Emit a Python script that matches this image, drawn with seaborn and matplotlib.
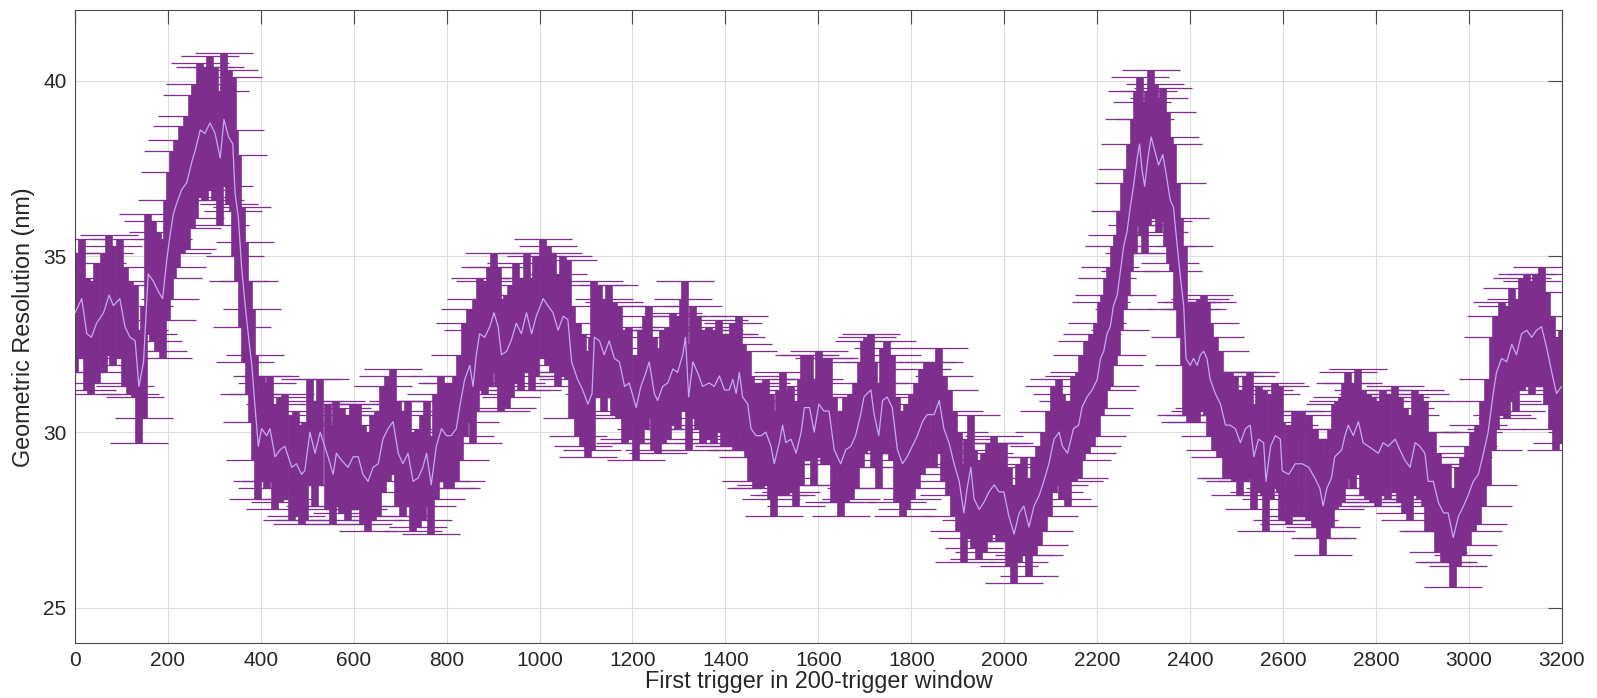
import numpy as np
import matplotlib
matplotlib.use("Agg")
import matplotlib.pyplot as plt
import seaborn as sns

# first trigger of each 200-trigger window
trigger = [
    1, 15, 26, 36, 47, 62, 74, 83, 97, 108,
    119, 130, 138, 148, 158, 169, 180, 189, 198, 205,
    212, 219, 230, 241, 252, 259, 270, 280, 291, 302,
    313, 321, 331, 340, 345, 352, 359, 366, 374, 381,
    388, 395, 402, 413, 420, 431, 442, 452, 467, 477,
    488, 495, 506, 517, 528, 545, 556, 563, 574, 588,
    599, 610, 620, 631, 642, 653, 663, 674, 685, 696,
    706, 717, 728, 739, 749, 757, 767, 778, 789, 800,
    810, 821, 828, 839, 850, 857, 864, 871, 882, 893,
    902, 911, 918, 929, 939, 950, 961, 972, 983, 993,
    1008, 1018, 1029, 1040, 1051, 1061, 1069, 1082, 1093, 1104,
    1113, 1118, 1129, 1139, 1150, 1161, 1172, 1183, 1193, 1208,
    1218, 1229, 1236, 1247, 1254, 1265, 1276, 1287, 1297, 1308,
    1314, 1321, 1330, 1340, 1351, 1365, 1376, 1387, 1398, 1408,
    1416, 1423, 1430, 1437, 1448, 1455, 1466, 1477, 1487, 1498,
    1505, 1516, 1523, 1530, 1541, 1552, 1563, 1570, 1581, 1591,
    1601, 1612, 1623, 1634, 1648, 1659, 1670, 1680, 1691, 1698,
    1705, 1713, 1720, 1730, 1738, 1748, 1759, 1770, 1781, 1791,
    1802, 1813, 1824, 1834, 1849, 1860, 1870, 1881, 1892, 1903,
    1913, 1920, 1928, 1935, 1946, 1956, 1967, 1978, 1989, 1999,
    2010, 2021, 2032, 2042, 2053, 2064, 2075, 2085, 2096, 2107,
    2118, 2125, 2136, 2149, 2160, 2167, 2178, 2189, 2200, 2207,
    2214, 2221, 2228, 2235, 2243, 2250, 2257, 2264, 2271, 2278,
    2286, 2291, 2296, 2302, 2309, 2316, 2324, 2332, 2341, 2350,
    2357, 2364, 2372, 2379, 2386, 2391, 2400, 2407, 2415, 2422,
    2429, 2436, 2443, 2454, 2465, 2476, 2486, 2497, 2508, 2519,
    2529, 2537, 2547, 2558, 2563, 2573, 2583, 2594, 2598, 2612,
    2626, 2641, 2655, 2668, 2679, 2686, 2694, 2704, 2711, 2719,
    2726, 2733, 2740, 2751, 2762, 2772, 2783, 2794, 2805, 2815,
    2826, 2841, 2851, 2862, 2873, 2884, 2894, 2905, 2912, 2923,
    2934, 2945, 2955, 2966, 2977, 2988, 2998, 3009, 3020, 3031,
    3041, 3052, 3059, 3070, 3081, 3092, 3102, 3113, 3124, 3135,
    3145, 3156, 3167, 3178, 3188, 3199,
]

# geometric resolution (nm)
resolution = [
    33.4, 33.8, 32.8, 32.7, 33.1, 33.4, 33.9, 33.6, 33.8, 33.0,
    32.7, 32.6, 31.3, 32.0, 34.5, 34.3, 34.0, 33.8, 34.9, 35.6,
    36.2, 36.5, 36.9, 37.1, 37.7, 38.0, 38.6, 38.5, 38.8, 38.5,
    37.8, 38.9, 38.4, 38.2, 36.8, 36.1, 34.7, 33.7, 32.7, 31.9,
    30.7, 29.6, 30.1, 29.9, 30.1, 29.3, 29.5, 29.6, 29.0, 29.1,
    28.8, 28.9, 30.0, 29.4, 30.0, 29.3, 28.8, 29.4, 29.2, 29.0,
    29.3, 29.3, 28.8, 28.6, 29.0, 29.1, 29.8, 30.1, 30.3, 29.4,
    29.1, 29.4, 28.6, 28.7, 29.0, 29.4, 28.5, 29.6, 30.1, 29.9,
    29.9, 30.1, 30.7, 31.5, 31.9, 31.3, 32.2, 32.8, 32.7, 33.0,
    33.4, 33.0, 32.2, 32.3, 32.6, 33.1, 32.8, 33.4, 32.8, 33.3,
    33.8, 33.6, 33.4, 32.9, 33.3, 33.2, 32.0, 31.5, 31.2, 30.8,
    31.1, 32.7, 32.6, 32.2, 32.6, 32.1, 32.0, 31.3, 31.4, 30.7,
    31.3, 31.7, 32.0, 31.1, 30.9, 31.3, 31.4, 31.8, 31.7, 32.2,
    32.7, 31.0, 32.0, 31.7, 31.3, 31.4, 31.3, 31.6, 31.2, 31.2,
    31.5, 31.1, 31.7, 31.0, 30.8, 30.1, 29.9, 29.9, 30.0, 29.6,
    29.1, 29.7, 30.2, 29.7, 29.8, 29.4, 30.0, 30.7, 30.7, 30.0,
    30.8, 30.6, 30.6, 29.5, 29.1, 29.5, 29.6, 29.9, 30.5, 31.0,
    31.1, 31.2, 30.5, 29.9, 30.9, 31.0, 30.7, 29.5, 29.1, 29.3,
    29.6, 29.9, 30.3, 30.5, 30.5, 30.9, 30.1, 29.7, 29.1, 28.6,
    27.7, 28.4, 29.0, 28.1, 27.8, 28.0, 28.3, 28.5, 28.3, 28.3,
    27.6, 27.1, 27.7, 27.9, 27.3, 27.9, 28.2, 28.6, 29.1, 29.8,
    30.0, 29.6, 29.4, 30.1, 30.2, 30.7, 31.0, 31.2, 31.5, 32.1,
    32.3, 32.8, 33.0, 33.6, 33.9, 34.6, 35.3, 35.7, 36.4, 37.0,
    37.8, 38.2, 37.5, 37.0, 37.8, 38.4, 38.0, 37.6, 37.9, 37.2,
    36.6, 36.4, 35.3, 34.4, 33.6, 32.1, 31.9, 32.1, 31.9, 32.2,
    32.3, 32.1, 31.5, 31.1, 30.8, 30.2, 30.2, 30.1, 29.7, 30.1,
    30.2, 29.3, 29.8, 29.7, 28.6, 29.6, 29.9, 29.8, 28.9, 28.8,
    29.1, 29.1, 29.0, 28.7, 28.4, 27.9, 28.4, 28.7, 29.3, 29.4,
    29.5, 29.9, 30.2, 29.9, 30.3, 29.7, 29.6, 29.5, 29.4, 29.7,
    29.6, 29.8, 29.5, 29.2, 29.0, 29.7, 29.6, 29.4, 28.6, 28.6,
    28.0, 27.7, 27.7, 27.0, 27.6, 27.9, 28.2, 28.6, 28.8, 29.4,
    30.0, 31.1, 31.7, 32.1, 32.0, 32.5, 32.2, 32.8, 32.9, 32.7,
    32.9, 33.0, 32.4, 31.7, 31.1, 31.3,
]

# error bar half-length (nm)
error = [
    1.7, 1.7, 1.6, 1.6, 1.7, 1.7, 1.7, 1.7, 1.7, 1.7,
    1.6, 1.6, 1.6, 1.6, 1.7, 1.7, 1.7, 1.7, 1.7, 1.8,
    1.8, 1.8, 1.8, 1.9, 1.9, 1.9, 1.9, 1.9, 1.9, 1.9,
    1.9, 1.9, 1.9, 1.9, 1.8, 1.8, 1.7, 1.7, 1.6, 1.6,
    1.5, 1.5, 1.5, 1.5, 1.5, 1.5, 1.5, 1.5, 1.5, 1.5,
    1.4, 1.4, 1.5, 1.5, 1.5, 1.5, 1.4, 1.5, 1.5, 1.5,
    1.5, 1.5, 1.4, 1.4, 1.5, 1.5, 1.5, 1.5, 1.5, 1.5,
    1.5, 1.5, 1.4, 1.4, 1.5, 1.5, 1.4, 1.5, 1.5, 1.5,
    1.5, 1.5, 1.5, 1.6, 1.6, 1.6, 1.6, 1.6, 1.6, 1.7,
    1.7, 1.7, 1.6, 1.6, 1.6, 1.7, 1.6, 1.7, 1.6, 1.7,
    1.7, 1.7, 1.7, 1.6, 1.7, 1.7, 1.6, 1.6, 1.6, 1.5,
    1.6, 1.6, 1.6, 1.6, 1.6, 1.6, 1.6, 1.6, 1.6, 1.5,
    1.6, 1.6, 1.6, 1.6, 1.5, 1.6, 1.6, 1.6, 1.6, 1.6,
    1.6, 1.5, 1.6, 1.6, 1.6, 1.6, 1.6, 1.6, 1.6, 1.6,
    1.6, 1.6, 1.6, 1.5, 1.5, 1.5, 1.5, 1.5, 1.5, 1.5,
    1.5, 1.5, 1.5, 1.5, 1.5, 1.5, 1.5, 1.5, 1.5, 1.5,
    1.5, 1.5, 1.5, 1.5, 1.5, 1.5, 1.5, 1.5, 1.5, 1.6,
    1.6, 1.6, 1.5, 1.5, 1.5, 1.6, 1.5, 1.5, 1.5, 1.5,
    1.5, 1.5, 1.5, 1.5, 1.5, 1.5, 1.5, 1.5, 1.5, 1.4,
    1.4, 1.4, 1.5, 1.4, 1.4, 1.4, 1.4, 1.4, 1.4, 1.4,
    1.4, 1.4, 1.4, 1.4, 1.4, 1.4, 1.4, 1.4, 1.5, 1.5,
    1.5, 1.5, 1.5, 1.5, 1.5, 1.5, 1.6, 1.6, 1.6, 1.6,
    1.6, 1.6, 1.7, 1.7, 1.7, 1.7, 1.8, 1.8, 1.8, 1.9,
    1.9, 1.9, 1.9, 1.9, 1.9, 1.9, 1.9, 1.9, 1.9, 1.9,
    1.8, 1.8, 1.8, 1.7, 1.7, 1.6, 1.6, 1.6, 1.6, 1.6,
    1.6, 1.6, 1.6, 1.6, 1.5, 1.5, 1.5, 1.5, 1.5, 1.5,
    1.5, 1.5, 1.5, 1.5, 1.4, 1.5, 1.5, 1.5, 1.4, 1.4,
    1.5, 1.5, 1.5, 1.4, 1.4, 1.4, 1.4, 1.4, 1.5, 1.5,
    1.5, 1.5, 1.5, 1.5, 1.5, 1.5, 1.5, 1.5, 1.5, 1.5,
    1.5, 1.5, 1.5, 1.5, 1.5, 1.5, 1.5, 1.5, 1.4, 1.4,
    1.4, 1.4, 1.4, 1.4, 1.4, 1.4, 1.4, 1.4, 1.4, 1.5,
    1.5, 1.6, 1.6, 1.6, 1.6, 1.6, 1.6, 1.6, 1.6, 1.6,
    1.6, 1.7, 1.6, 1.6, 1.6, 1.6,
]

x_ticks = list(range(0, 3201, 200))
y_ticks = [25, 30, 35, 40]

bar_color = "#7E2F8E"
line_color = "#C9A6F2"
text_color = "#262626"

sns.set_theme(style="white")
plt.rcParams["font.family"] = ["Liberation Sans", "DejaVu Sans"]

fig = plt.figure(figsize=(15.97, 6.98), dpi=100)
ax = fig.add_axes([0.0468, 0.0788, 0.9313, 0.9062])

ax.errorbar(trigger, resolution, yerr=error, fmt="none", ecolor=bar_color,
            elinewidth=5.5, capsize=21, capthick=0.9, zorder=2)
sns.lineplot(x=trigger, y=resolution, color=line_color, linewidth=0.9,
             estimator=None, sort=False, ax=ax, zorder=3)

ax.set_xlim(0, 3200)
ax.set_ylim(24, 42)
ax.set_xticks(x_ticks)
ax.set_yticks(y_ticks)
ax.grid(True, color="#DEDEDE", linewidth=0.8)
ax.set_axisbelow(True)

ax.tick_params(direction="in", length=10, width=0.8, colors="#4a4a4a",
               labelcolor=text_color, labelsize=15, top=True, right=True,
               pad=6)
for side in ax.spines.values():
    side.set_color("#4a4a4a")
    side.set_linewidth(0.8)

ax.set_xlabel("First trigger in 200-trigger window", fontsize=16.8,
              color=text_color, labelpad=0)
ax.set_ylabel("Geometric Resolution (nm)", fontsize=16.8,
              color=text_color, labelpad=6)

fig.savefig("out.png", dpi=100)
